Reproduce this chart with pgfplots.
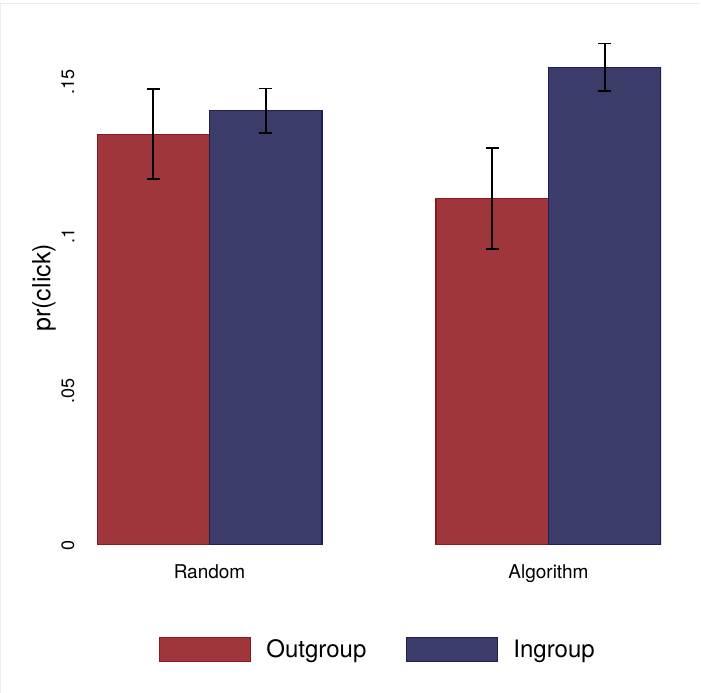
\documentclass[border=0pt]{standalone}
\usepackage{fontspec}
\setmainfont{TeX Gyre Heros}
\usepackage{pgfplots}
\pgfplotsset{compat=1.18}
\definecolor{outred}{RGB}{158,54,59}
\definecolor{outredline}{RGB}{138,26,32}
\definecolor{inblue}{RGB}{59,60,106}
\definecolor{inblueline}{RGB}{30,31,82}
\begin{document}
\begin{tikzpicture}
\useasboundingbox (0,0) rectangle (701bp,693bp);
\fill[white] (0,0) rectangle (701bp,693bp);
\draw[black!7, line width=0.8bp] (0.8bp,0) -- (0.8bp,690bp) -- (699bp,690bp);
\begin{axis}[
  at={(97bp,148bp)}, anchor=south west,
  scale only axis, width=564bp, height=509.3bp,
  xmin=-0.332, xmax=1.332, ymin=0, ymax=0.165,
  axis line style={draw=none},
  major tick length=0pt,
  ybar, bar width=112.5bp,
  xtick={0,1}, xticklabels={Random, Algorithm},
  ytick={0,0.05,0.1,0.15}, yticklabels={0,.05,.1,.15},
  /pgf/number format/assume math mode=true,
  xticklabel style={font=\fontsize{19bp}{21bp}\selectfont, yshift=-16bp},
  yticklabel style={font=\fontsize{18bp}{20bp}\selectfont, xshift=-19bp, rotate=90, anchor=south},
  ylabel={pr(click)},
  every axis y label/.style={at={(rel axis cs:0,0.505)}, xshift=-53bp, rotate=90, anchor=center, font=\fontsize{25bp}{27bp}\selectfont},
  legend columns=2,
  legend style={at={(rel axis cs:0.4965,-0.2043)}, anchor=center, draw=none, fill=none,
    font=\fontsize{24bp}{26bp}\selectfont, column sep=0pt, nodes={inner sep=0pt},
    /tikz/every odd column/.append style={column sep=15bp},
    /tikz/every even column/.append style={column sep=40bp}},
  error bars/y dir=both, error bars/y explicit,
  error bars/error bar style={line width=1.6bp, black},
  error bars/error mark options={rotate=90, line width=1.6bp, black, mark size=6.7bp},
]
\addplot[fill=outred, draw=outredline, line width=1.1bp, bar shift=-56.25bp,
  legend image code/.code={\draw[fill=outred, draw=outredline, line width=1.1bp] (0bp,-12bp) rectangle (91bp,12bp);}]
  coordinates {(0,0.1331) +- (0,0.0146) (1,0.1123) +- (0,0.0164)};
\addlegendentry{Outgroup}
\addplot[fill=inblue, draw=inblueline, line width=1.1bp, bar shift=56.25bp,
  legend image code/.code={\draw[fill=inblue, draw=inblueline, line width=1.1bp] (0bp,-12bp) rectangle (91bp,12bp);}]
  coordinates {(0,0.1407) +- (0,0.0072) (1,0.1548) +- (0,0.0077)};
\addlegendentry{Ingroup}
\end{axis}
\end{tikzpicture}
\end{document}
